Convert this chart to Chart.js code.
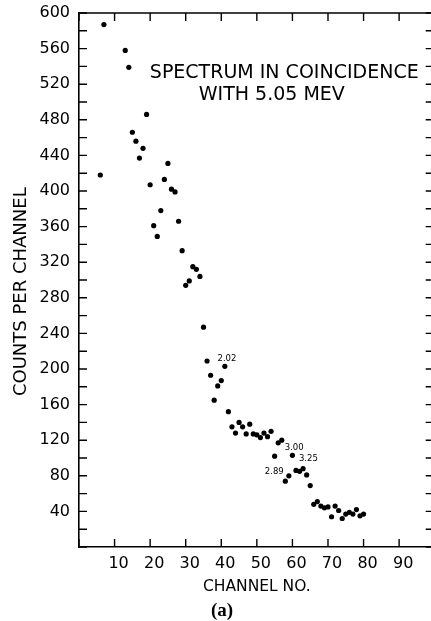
<!DOCTYPE html>
<html><head><meta charset="utf-8">
<script src="https://cdn.jsdelivr.net/npm/chart.js@4/dist/chart.umd.min.js"></script>
<style>
html,body{margin:0;padding:0;background:#fff;overflow:hidden;width:431px;height:621px;}
#wrap{position:absolute;left:0;top:0;width:440px;height:621px;}
</style></head><body>
<div id="wrap"><canvas id="c" width="440" height="621"></canvas></div>
<script>
// ---- data ----
const channels = [6,7,13,14,15,16,17,18,19,20,21,22,23,24,25,26,27,28,29,30,31,32,33,34,35,36,37,38,39,40,41,42,43,44,45,46,47,48,49,50,51,52,53,54,55,56,57,58,59,60,61,62,63,64,65,66,67,68,69,70,71,72,73,74,75,76,77,78,79,80];
const counts   = [418,587,558,539,466,456,437,448,486,407,361,349,378,413,431,402,399,366,333,294,299,315,312,304,247,209,193,165,181,187,203,152,135,128,140,135,127,138,127,126,123,128,124,130,102,117,120,74,80,103,86,85,88,81,69,48,51,46,44,45,34,46,41,32,37,39,37,42,35,37];
const xTickLabels = ['10','20','30','40','50','60','70','80','90'];
const yTickLabels = ['40','80','120','160','200','240','280','320','360','400','440','480','520','560','600'];
const peakLabels = ['2.02','3.00','3.25','2.89'];
const peakLabelX = [41.6, 60.5, 64.5, 54.9];
const peakLabelY = [212, 111, 99, 84];
const headerLines = ['SPECTRUM IN COINCIDENCE','WITH 5.05 MEV'];
const headerX = [57.7, 54.2];
const headerY = [532, 508];
const xTitle = 'CHANNEL NO.';
const yTitle = 'COUNTS PER CHANNEL';
const panelLabel = '(a)';

const FONT = '"DejaVu Sans", sans-serif';

const framePlugin = {
  id: 'frame',
  afterDraw(chart) {
    const ctx = chart.ctx, a = chart.chartArea;
    const xs = chart.scales.x, ys = chart.scales.y;
    ctx.save();
    ctx.strokeStyle = '#000';
    ctx.lineWidth = 1.6;
    ctx.beginPath();
    ctx.moveTo(a.left, a.top); ctx.lineTo(a.right, a.top); ctx.lineTo(a.right, a.bottom);
    ctx.stroke();
    ctx.lineWidth = 1.4;
    ctx.beginPath();
    xs.ticks.forEach(t => {
      const px = xs.getPixelForValue(t.value);
      ctx.moveTo(px, a.bottom); ctx.lineTo(px, a.bottom - 8);
      ctx.moveTo(px, a.top); ctx.lineTo(px, a.top + 8);
    });
    ys.ticks.forEach(t => {
      const py = ys.getPixelForValue(t.value);
      ctx.moveTo(a.left, py); ctx.lineTo(a.left + 8, py);
      ctx.moveTo(a.right, py); ctx.lineTo(a.right - 9, py);
    });
    ctx.stroke();
    ctx.fillStyle = '#000';
    // header
    ctx.font = '19px ' + FONT;
    ctx.textAlign = 'center'; ctx.textBaseline = 'middle';
    headerLines.forEach((s, i) => ctx.fillText(s, xs.getPixelForValue(headerX[i]), ys.getPixelForValue(headerY[i])));
    // peak labels
    ctx.font = '8.5px ' + FONT;
    peakLabels.forEach((s, i) => ctx.fillText(s, xs.getPixelForValue(peakLabelX[i]), ys.getPixelForValue(peakLabelY[i])));
    // y title
    ctx.save();
    ctx.translate(21.5, 291.7);
    ctx.rotate(-Math.PI / 2);
    ctx.font = '18px ' + FONT;
    ctx.fillText(yTitle, 0, 0);
    ctx.restore();
    // panel label
    ctx.font = 'bold 19px "Liberation Serif", serif';
    ctx.fillText(panelLabel, 222, 611);
    ctx.restore();
  }
};

new Chart(document.getElementById('c'), {
  type: 'scatter',
  data: { datasets: [{
    data: channels.map((c, i) => ({ x: c, y: counts[i] })),
    backgroundColor: '#000', borderColor: '#000',
    pointRadius: 2.6, pointHoverRadius: 2.6, borderWidth: 0
  }]},
  options: {
    responsive: false, animation: false, devicePixelRatio: 1,
    layout: { padding: { top: 13, right: 5.3, left: 0, bottom: 0 } },
    plugins: { legend: { display: false }, tooltip: { enabled: false } },
    scales: {
      x: {
        type: 'linear', min: 0, max: 100,
        afterFit(s) { s.height = 74; s.paddingLeft = 0; s.paddingRight = 0; },
        ticks: {
          stepSize: 10, autoSkip: false, maxRotation: 0, padding: 7, labelOffset: 4,
          color: '#000', font: { family: FONT, size: 16 },
          callback: v => xTickLabels.includes(String(v)) ? String(v) : ''
        },
        grid: { display: false, drawTicks: false },
        border: { display: true, color: '#000', width: 1.6 },
        title: { display: true, text: xTitle, color: '#000', font: { family: FONT, size: 15.5 }, padding: { top: 0, bottom: 24.7 } }
      },
      y: {
        min: 0, max: 600,
        afterFit(s) { s.width = 79; s.paddingTop = 0; s.paddingBottom = 0; },
        ticks: {
          stepSize: 20, autoSkip: false, padding: 9,
          color: '#000', font: { family: FONT, size: 16 },
          callback: v => yTickLabels.includes(String(v)) ? String(v) : ''
        },
        grid: { display: false, drawTicks: false },
        border: { display: true, color: '#000', width: 1.6 }
      }
    }
  },
  plugins: [framePlugin]
});
</script>
</body></html>
